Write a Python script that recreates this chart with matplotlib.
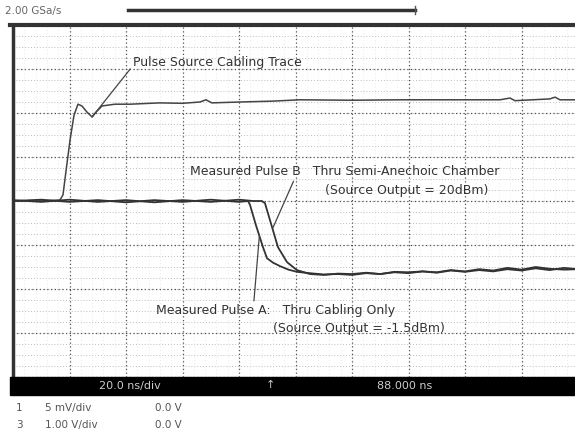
import matplotlib
matplotlib.use("Agg")
import matplotlib.pyplot as plt
import numpy as np

# ---- data (time in ns from left edge of screen, level in vertical divisions) ----
src_t = [0, 9.6, 16.6, 17.7, 18.8, 20.2, 21.6, 23.0, 24.4, 26.2, 28.0, 29.4, 31.5, 36.1, 41.4,
         52.0, 60.0, 66.2, 68.3, 70.4, 80.4, 92.0, 101.6, 120, 137, 155, 172.4, 175.9, 177.7,
         190, 191.9, 193.6, 200]
src_v = [0.0, 0.0, 0.02, 0.14, 0.7, 1.39, 1.95, 2.2, 2.16, 2.02, 1.91, 2.02, 2.16, 2.2, 2.2,
         2.23, 2.22, 2.25, 2.3, 2.23, 2.25, 2.27, 2.3, 2.29, 2.3, 2.3, 2.3, 2.34, 2.28,
         2.32, 2.36, 2.3, 2.3]

pa_t = [0, 10, 20, 30, 40, 50, 60, 70, 80, 83.2, 83.9, 86.0, 88.5, 89.9, 92.0, 94.5, 97.5,
        100.5, 105, 110, 115, 120, 125, 130, 135, 140, 145, 150, 155, 160, 165, 170, 175,
        180, 185, 190, 195, 200]
pa_v = [0.0, 0.03, -0.02, 0.02, -0.03, 0.02, -0.02, 0.03, -0.02, 0.0, -0.09, -0.55, -1.05,
        -1.3, -1.4, -1.48, -1.56, -1.61, -1.64, -1.67, -1.66, -1.68, -1.64, -1.66, -1.62,
        -1.64, -1.6, -1.63, -1.58, -1.61, -1.57, -1.6, -1.55, -1.58, -1.53, -1.57, -1.52, -1.55]

pb_t = [0, 10, 20, 30, 40, 50, 60, 70, 80, 85, 88.1, 89.2, 92.0, 93.8, 97.0, 100.5, 105.1,
        110, 115, 120, 125, 130, 135, 140, 145, 150, 155, 160, 165, 170, 175, 180, 185,
        190, 195, 200]
pb_v = [0.02, -0.02, 0.03, -0.02, 0.02, -0.03, 0.02, -0.02, 0.03, 0.0, 0.0, -0.05, -0.66,
        -1.05, -1.39, -1.57, -1.66, -1.68, -1.65, -1.66, -1.63, -1.66, -1.61, -1.62, -1.6,
        -1.62, -1.57, -1.6, -1.55, -1.58, -1.52, -1.56, -1.5, -1.54, -1.56, -1.55]

header_text = "2.00 GSa/s"
timebase_text = "20.0 ns/div"
trig_text = "\u2191"
delay_text = "88.000 ns"
ch_labels = ["1", "3"]
ch_scales = ["5 mV/div", "1.00 V/div"]
ch_offsets = ["0.0 V", "0.0 V"]

W, H = 575, 440
fig = plt.figure(figsize=(W / 100, H / 100), dpi=100)
fig.patch.set_facecolor("white")

def fx(px):
    return px / W

def fy(py):
    return 1 - py / H

# screen axes: left 13px, top 25px, 10 div x 56.5 px, 8 div x 44 px
ax = fig.add_axes([fx(13), fy(377), 565 / W, 352 / H])
ax.set_xlim(0, 200)
ax.set_ylim(-4, 4)
ax.set_facecolor("white")

# minor dotted rows
for yv in np.arange(-4, 4.01, 0.25):
    ax.axhline(yv, color="#bdbdbd", lw=0.7, ls=(0, (1, 2)), zorder=1)
for xv in np.arange(0, 200.1, 4):
    ax.axvline(xv, color="#e2e2e2", lw=0.6, ls=(0, (1, 3)), zorder=1)
# major grid
for yv in range(-4, 5):
    ax.axhline(yv, color="#555555", lw=0.9, ls=(0, (1, 2)), zorder=2)
for xv in range(0, 201, 20):
    ax.axvline(xv, color="#555555", lw=0.9, ls=(0, (1, 2)), zorder=2)

ax.plot(src_t, src_v, color="#444444", lw=1.1, zorder=4)
ax.plot(pa_t, pa_v, color="#333333", lw=1.3, zorder=4)
ax.plot(pb_t, pb_v, color="#333333", lw=1.3, zorder=4)

for s in ax.spines.values():
    s.set_visible(False)
ax.spines["left"].set_visible(True)
ax.spines["left"].set_linewidth(2.5)
ax.spines["left"].set_color("#333333")
ax.set_xticks([])
ax.set_yticks([])

tc = "#333333"
fs = 9
lp = dict(arrowstyle="-", color="#444444", lw=0.9, shrinkA=0, shrinkB=0)
ax.annotate("Pulse Source Cabling Trace", xy=(28.0, 1.91), xytext=(42.5, 3.14),
            fontsize=fs, color=tc, va="center", ha="left",
            arrowprops=dict(relpos=(0, 0.3), **lp), zorder=5)
ax.annotate("Measured Pulse B   Thru Semi-Anechoic Chamber", xy=(92.0, -0.61),
            xytext=(62.5, 0.66), fontsize=fs, color=tc, va="center", ha="left",
            arrowprops=dict(relpos=(0.34, 0.0), **lp), zorder=5)
ax.text(110.5, 0.23, "(Source Output = 20dBm)", fontsize=fs, color=tc, va="center", ha="left", zorder=5)
ax.annotate("Measured Pulse A:   Thru Cabling Only", xy=(87.2, -0.8),
            xytext=(50.5, -2.48), fontsize=fs, color=tc, va="center", ha="left",
            arrowprops=dict(relpos=(0.41, 1.0), **lp), zorder=5)
ax.text(92, -2.89, "(Source Output = -1.5dBm)", fontsize=fs, color=tc, va="center", ha="left", zorder=5)

# top border
fig.add_artist(plt.Line2D([fx(10), fx(575)], [fy(25), fy(25)], color="#333333", lw=3))
# header
fig.text(fx(5), fy(11), header_text, fontsize=7.5, color="#666666", va="center", ha="left")
fig.add_artist(plt.Line2D([fx(128), fx(415)], [fy(10), fy(10)], color="#333333", lw=2.5))
fig.add_artist(plt.Line2D([fx(415), fx(415)], [fy(6), fy(14)], color="#555555", lw=1))

# bottom black bar
fig.add_artist(plt.Rectangle((fx(10), fy(395)), fx(575) - fx(10), (395 - 377) / H,
                             color="black", zorder=10))
fig.text(fx(130), fy(386), timebase_text, fontsize=8, color="#cccccc", va="center", ha="center", zorder=11)
fig.text(fx(270), fy(385), trig_text, fontsize=8, color="#cccccc", va="center", ha="center", zorder=11)
fig.text(fx(405), fy(386), delay_text, fontsize=8, color="#cccccc", va="center", ha="center", zorder=11)

for i, (lab, sc, off) in enumerate(zip(ch_labels, ch_scales, ch_offsets)):
    yy = fy(408 + i * 17)
    fig.text(fx(16), yy, lab, fontsize=7.5, color="#555555", va="center", ha="left")
    fig.text(fx(45), yy, sc, fontsize=7.5, color="#555555", va="center", ha="left")
    fig.text(fx(155), yy, off, fontsize=7.5, color="#555555", va="center", ha="left")

fig.savefig("out.png", dpi=100, facecolor="white")
